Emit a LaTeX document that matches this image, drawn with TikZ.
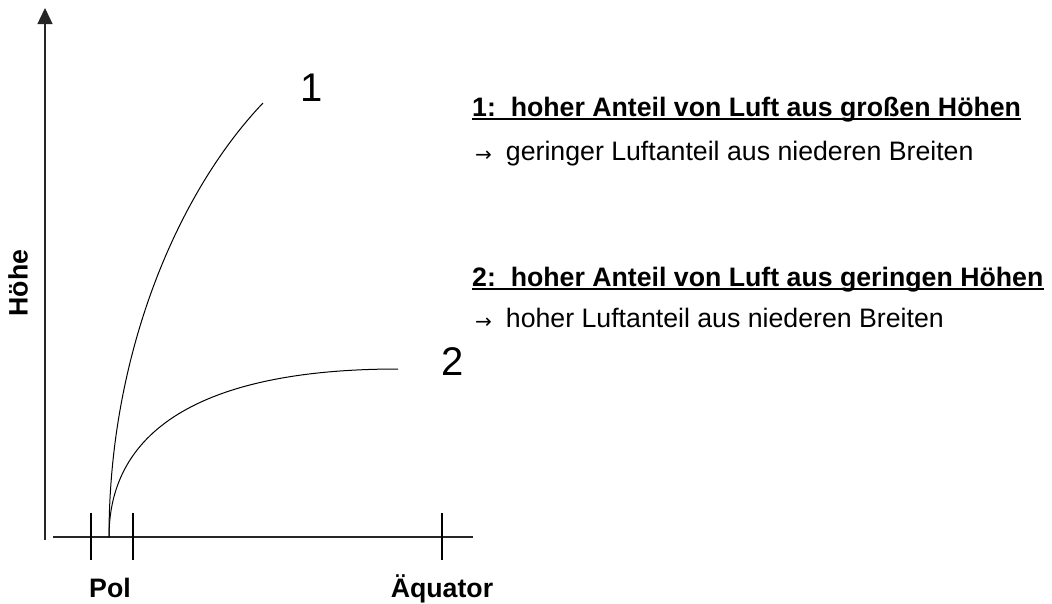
\documentclass[tikz,border=0pt]{standalone}
\usepackage{fontspec}
\setmainfont{Liberation Sans}
\newfontfamily\symfont{DejaVu Sans}
\usetikzlibrary{arrows.meta}
\newcommand{\pfeil}{\raisebox{-1.5pt}{\symfont\fontsize{20}{22}\selectfont →}\hspace{14pt}}
\begin{document}
\begin{tikzpicture}[x=1pt,y=-1pt,>={Triangle[length=16pt,width=15pt]},
  every node/.style={inner sep=0pt},
  axis/.style={line width=1.3pt,black!85},
  mark line/.style={line width=1.2pt},
  curve/.style={line width=1pt},
  uline/.style={line width=1.5pt},
  bold/.style={font=\bfseries\fontsize{26.7}{32}\selectfont},
  plain/.style={font=\fontsize{26.7}{32}\selectfont},
  big/.style={font=\fontsize{40}{44}\selectfont}]
  \useasboundingbox (0,0) rectangle (1052,603);
  % axes
  \coordinate (yfoot) at (45,540);
  \coordinate (ytip) at (45,8);
  \coordinate (xleft) at (53,537);
  \coordinate (xright) at (473,537);
  \draw[axis,->] (yfoot) -- (ytip);
  \draw[axis] (xleft) -- (xright);
  \foreach \x in {91,133,442}
    \draw[mark line] (\x,513) -- (\x,560);
  \node[bold,rotate=90] (hoehe) at (18,283) {Höhe};
  \node[bold,anchor=base] (pol) at (110,597) {Pol};
  \node[bold,anchor=base] (aequator) at (442,597) {Äquator};
  % curves
  \coordinate (start) at (109,537);
  \coordinate (end1) at (263,103);
  \coordinate (end2) at (398,369);
  \draw[curve] (start) .. controls (109,350) and (180,190) .. (end1);
  \draw[curve] (start) .. controls (109,420) and (220,369) .. (end2);
  \node[big] (one) at (312,88) {1};
  \node[big] (two) at (453,362) {2};
  % legend
  \node[bold,anchor=base west] (head1) at (472,116) {1:\ \ hoher Anteil von Luft aus großen Höhen};
  \node[plain,anchor=base west] (text1) at (475,160) {\pfeil geringer Luftanteil aus niederen Breiten};
  \node[bold,anchor=base west] (head2) at (472,286) {2:\ \ hoher Anteil von Luft aus geringen Höhen};
  \node[plain,anchor=base west] (text2) at (475,327) {\pfeil hoher Luftanteil aus niederen Breiten};
  \draw[uline] ([yshift=-3pt]head1.base west) -- ([yshift=-3pt]head1.base east);
  \draw[uline] ([yshift=-3pt]head2.base west) -- ([yshift=-3pt]head2.base east);
\end{tikzpicture}
\end{document}
